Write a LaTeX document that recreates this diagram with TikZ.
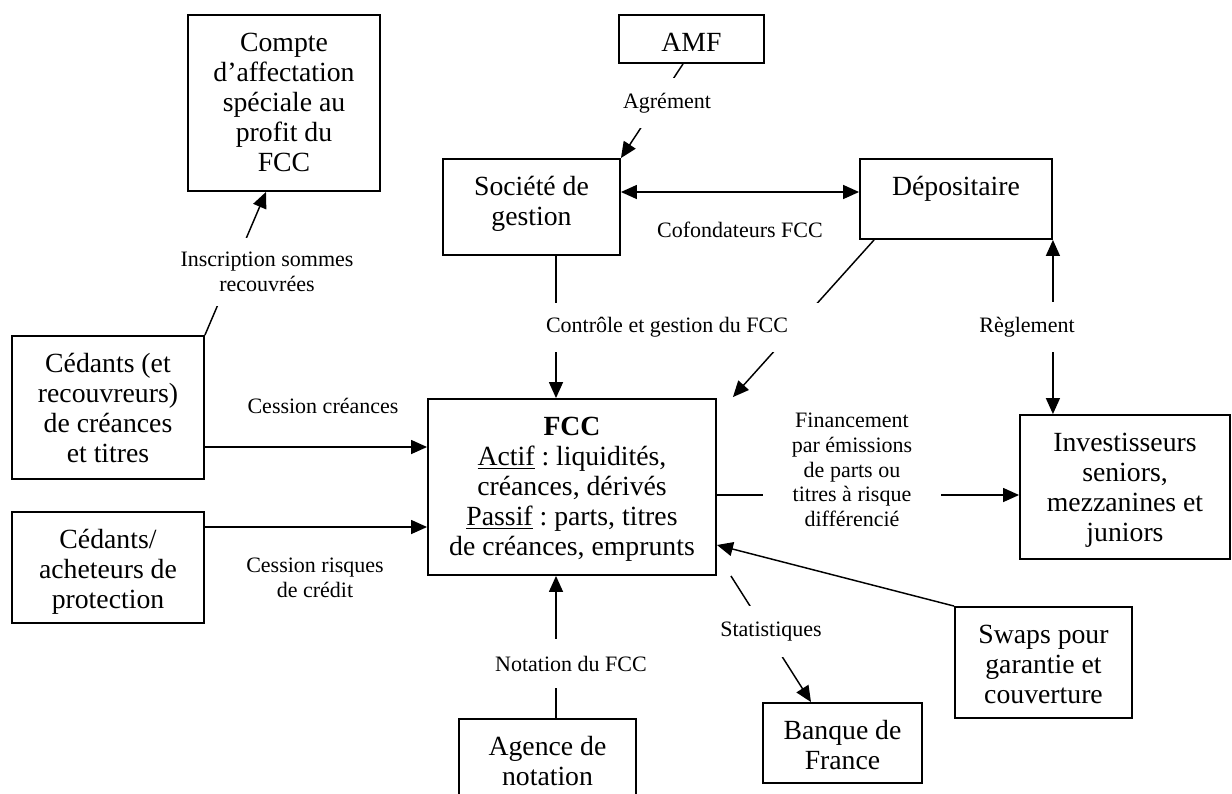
\documentclass[tikz,border=0pt]{standalone}
\usepackage{fontspec}
\setmainfont{Liberation Serif}
\usetikzlibrary{arrows.meta,calc}
\frenchspacing
\newlength{\pxl}\setlength{\pxl}{0.75pt}
\newcommand{\bxt}[3]{\parbox[c][#2\pxl][t]{#1\pxl}{\centering\rule{0pt}{27.5pt}#3\par}}
\begin{document}
\begin{tikzpicture}[x=0.75pt,y=-0.75pt,
  box/.style={draw,line width=1.4pt,inner sep=0pt,font=\fontsize{20.8}{22.5}\selectfont},
  lbl/.style={inner sep=0pt,align=center,font=\fontsize{16.5}{18.5}\selectfont},
  gaplbl/.style={lbl,fill=white},
  ln/.style={line width=1.1pt},
  arr/.style={ln,-{Triangle[length=12pt,width=10.5pt]}},
  darr/.style={ln,{Triangle[length=12pt,width=10.5pt]}-{Triangle[length=12pt,width=10.5pt]}}]
\useasboundingbox (0,0) rectangle (1232,793);
\fill[white] (0,0) rectangle (1232,793);

% boxes
\node[box] (compte) at (284,103) {\bxt{192}{176}{Compte\\d’affectation\\spéciale au\\profit du\\FCC}};
\node[box] (amf) at (691.5,39) {\bxt{145}{48}{AMF}};
\node[box] (soc) at (531.5,207) {\bxt{177}{96}{Société de\\gestion}};
\node[box] (dep) at (956,199) {\bxt{192}{80}{Dépositaire}};
\node[box] (ced1) at (108,407.5) {\bxt{192}{143}{Cédants (et\\recouvreurs)\\de créances\\et titres}};
\node[box] (ced2) at (108,567.5) {\bxt{192}{111}{Cédants/\\acheteurs de\\protection}};
\node[box] (fcc) at (572,487) {\bxt{288}{176}{\textbf{FCC}\\\underline{Actif} : liquidités,\\créances, dérivés\\\underline{Passif} : parts, titres\\de créances, emprunts}};
\node[box] (inv) at (1125,487) {\bxt{210}{144}{Investisseurs\\seniors,\\mezzanines et\\juniors}};
\node[box] (swaps) at (1043.5,662.5) {\bxt{177}{111}{Swaps pour\\garantie et\\couverture}};
\node[box] (bdf) at (842.5,743) {\bxt{159}{80}{Banque de\\France}};
\node[box] (agence) at (547.5,767) {\bxt{177}{96}{Agence de\\notation}};

% connectors
\draw[arr] ($(amf.south)+(-8.5,0)$) -- (soc.north east);
\draw[darr] ($(soc.east)+(0,-15)$) -- ($(dep.west)+(0,-7)$);
\draw[arr] (ced1.north east) -- ($(compte.south)+(-18,0)$);
\draw[arr] ($(ced1.east)+(0,39.5)$) coordinate (c1) -- (c1 -| fcc.west);
\draw[arr] ($(ced2.east)+(0,-40.5)$) coordinate (c2) -- (c2 -| fcc.west);
\draw[arr] ($(soc.south)+(24.5,0)$) coordinate (c3) -- (c3 |- fcc.north);
\draw[arr] ($(dep.south west)+(15,0)$) -- ($(fcc.north east)+(16,-1)$);
\draw[darr] (dep.south east) -- (dep.south east |- inv.north);
\draw[arr] ($(fcc.east)+(0,8)$) coordinate (c4) -- (c4 -| inv.west);
\draw[arr] (swaps.north west) -- ($(fcc.east)+(0,58)$);
\draw[arr] ($(fcc.south east)+(14,0)$) -- ($(bdf.north)+(-31.5,0)$);
\draw[arr] ($(agence.north)+(8.5,0)$) coordinate (c5) -- (c5 |- fcc.south);

% labels
\node[gaplbl,minimum width=75pt,minimum height=37.5pt] (lagr) at (667,103) {Agrément};
\node[lbl] (lcof) at (740,230) {Cofondateurs FCC};
\node[gaplbl,minimum width=142pt,minimum height=51pt] (lins) at (267,272) {Inscription sommes\\recouvrées};
\node[lbl] (lcc) at (323,406) {Cession créances};
\node[lbl] (lcr) at (315,577.5) {Cession risques\\de crédit};
\node[gaplbl,minimum width=232pt,minimum height=36.75pt] (lctl) at (667,327.5) {Contrôle et gestion du FCC};
\node[gaplbl,minimum width=75pt,minimum height=37.5pt] (lreg) at (1027,327) {Règlement};
\node[gaplbl,minimum width=133.5pt,minimum height=97.5pt] (lfin) at (852,470) {Financement\\par émissions\\de parts ou\\titres à risque\\différencié};
\node[gaplbl,minimum width=82pt,minimum height=38pt] (lsta) at (771,631.5) {Statistiques};
\node[gaplbl,minimum width=127pt,minimum height=36.75pt] (lnot) at (571,663.5) {Notation du FCC};
\end{tikzpicture}
\end{document}
